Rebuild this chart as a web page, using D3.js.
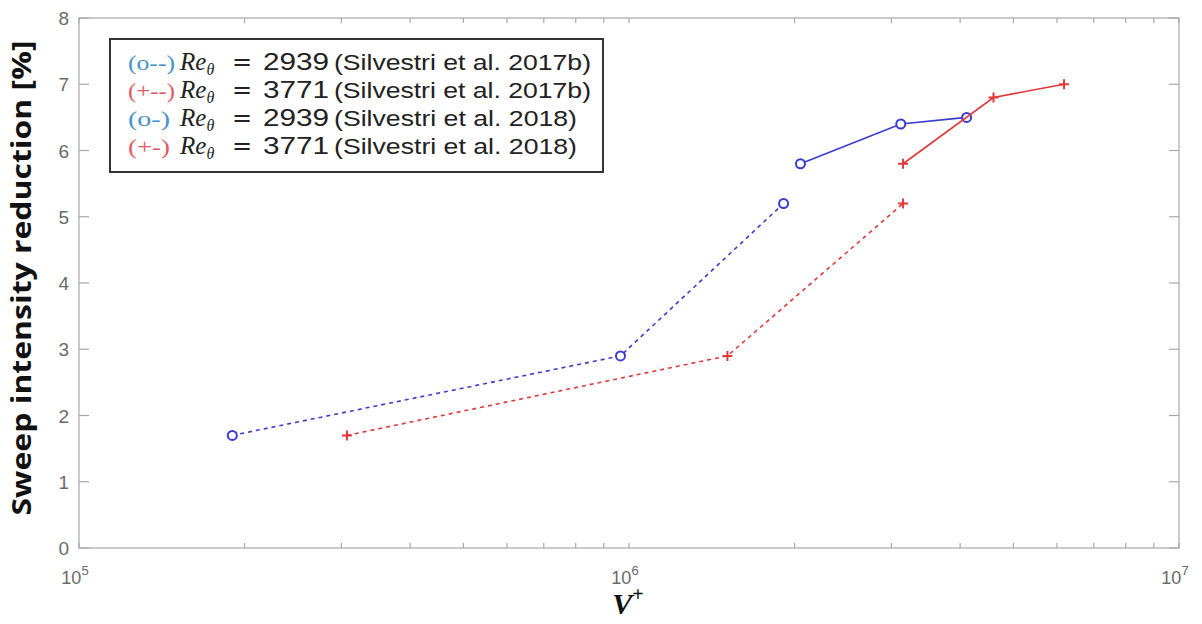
<!DOCTYPE html>
<html><head><meta charset="utf-8">
<script src="https://cdn.jsdelivr.net/npm/d3@7"></script>
<style>body{margin:0;background:#fff;}svg{display:block;}</style>
</head><body>
<svg id="chart" width="1202" height="624"></svg>
<script>
const blue2017x = [1.9e5, 9.65e5, 1.91e6];
const blue2017y = [1.7, 2.9, 5.2];
const red2017x = [3.07e5, 1.51e6, 3.15e6];
const red2017y = [1.7, 2.9, 5.2];
const blue2018x = [2.05e6, 3.12e6, 4.11e6];
const blue2018y = [5.8, 6.4, 6.5];
const red2018x = [3.15e6, 4.6e6, 6.18e6];
const red2018y = [5.8, 6.8, 7.0];
const yTicks = [0,1,2,3,4,5,6,7,8];
const xTickExps = [5,6,7];
const legendPrefixes = ["(o--)", "(+--)", "(o-)", "(+-)"];
const legendRe = ["2939", "3771", "2939", "3771"];
const legendRefs = ["(Silvestri et al. 2017b)", "(Silvestri et al. 2017b)", "(Silvestri et al. 2018)", "(Silvestri et al. 2018)"];

const svg = d3.select("#chart");
const L = 79, R = 1179, T = 18, B = 548;
const x = d3.scaleLog().domain([1e5, 1e7]).range([L, R]);
const y = d3.scaleLinear().domain([0, 8]).range([B, T]);
const axisCol = "#a8a8a8", tickTextCol = "#6a6a6a";
const BLUE = "#3b3bd0", RED = "#e03838";

// frame
svg.append("rect").attr("x", L).attr("y", T).attr("width", R-L).attr("height", B-T)
  .attr("fill", "none").attr("stroke", axisCol).attr("stroke-width", 1.2);

// x ticks (major + minor) on bottom and top
const minor = [];
for (let e = 5; e < 7; e++) for (let m = 1; m < 10; m++) minor.push(m * Math.pow(10, e));
minor.push(1e7);
minor.forEach(v => {
  const len = 5;
  svg.append("line").attr("x1", x(v)).attr("x2", x(v)).attr("y1", B).attr("y2", B - len).attr("stroke", axisCol).attr("stroke-width", 1.2);
  svg.append("line").attr("x1", x(v)).attr("x2", x(v)).attr("y1", T).attr("y2", T + len).attr("stroke", axisCol).attr("stroke-width", 1.2);
});
// y ticks left and right
yTicks.forEach(v => {
  svg.append("line").attr("x1", L).attr("x2", L + 10).attr("y1", y(v)).attr("y2", y(v)).attr("stroke", axisCol).attr("stroke-width", 1.2);
  svg.append("line").attr("x1", R).attr("x2", R - 10).attr("y1", y(v)).attr("y2", y(v)).attr("stroke", axisCol).attr("stroke-width", 1.2);
  svg.append("text").attr("x", L - 10).attr("y", y(v) + 7).attr("text-anchor", "end")
    .attr("font-family", "Liberation Sans, Arial, sans-serif").attr("font-size", 19).attr("fill", tickTextCol).text(v);
});
// x tick labels
xTickExps.forEach(e => {
  const t = svg.append("text").attr("x", x(Math.pow(10, e)) - 4).attr("y", B + 36).attr("text-anchor", "middle")
    .attr("font-family", "Liberation Sans, Arial, sans-serif").attr("font-size", 18).attr("fill", tickTextCol);
  t.append("tspan").text("10");
  t.append("tspan").attr("font-size", 13).attr("dy", -9).text(e);
});

// axis labels
svg.append("text").attr("transform", `translate(31,278) rotate(-90)`).attr("text-anchor", "middle")
  .attr("font-family", "Open Sans, DejaVu Sans, sans-serif").attr("font-weight", "bold").attr("font-size", 26).attr("fill", "#111")
  .attr("textLength", 475).attr("lengthAdjust", "spacingAndGlyphs")
  .text("Sweep intensity reduction [%]");
const xl = svg.append("text").attr("x", 628).attr("y", 614).attr("text-anchor", "middle")
  .attr("font-family", "Liberation Serif, Times New Roman, serif").attr("font-weight", "bold").attr("font-style", "italic").attr("font-size", 30).attr("fill", "#111");
xl.append("tspan").text("V");
xl.append("tspan").attr("font-size", 20).attr("dy", -13).attr("font-style", "normal").text("+");

// series
const series = [
  {xs: blue2017x, ys: blue2017y, color: BLUE, dash: "4,4", mk: "o"},
  {xs: red2017x, ys: red2017y, color: RED, dash: "4,4", mk: "+"},
  {xs: blue2018x, ys: blue2018y, color: BLUE, dash: null, mk: "o"},
  {xs: red2018x, ys: red2018y, color: RED, dash: null, mk: "+"}
];
const line = d3.line().x(d => x(d[0])).y(d => y(d[1]));
series.forEach(s => {
  const pts = s.xs.map((v, i) => [v, s.ys[i]]);
  svg.append("path").datum(pts).attr("d", line).attr("fill", "none").attr("stroke", s.color)
    .attr("stroke-width", 1.6).attr("stroke-dasharray", s.dash);
  pts.forEach(p => {
    if (s.mk === "o") {
      svg.append("circle").attr("cx", x(p[0])).attr("cy", y(p[1])).attr("r", 4.5)
        .attr("fill", "#fff").attr("stroke", s.color).attr("stroke-width", 2);
    } else {
      const cx = x(p[0]), cy = y(p[1]), r = 5;
      svg.append("path").attr("d", `M${cx-r},${cy}H${cx+r}M${cx},${cy-r}V${cy+r}`)
        .attr("stroke", s.color).attr("stroke-width", 2);
    }
  });
});

// legend
const lg = svg.append("g");
lg.append("rect").attr("x", 110).attr("y", 39).attr("width", 493).attr("height", 133)
  .attr("fill", "#fff").attr("stroke", "#333").attr("stroke-width", 2);
const prefCols = ["#4a90cc", "#e05a64", "#4a90cc", "#e05a64"];
const refLens = [257, 257, 243, 243];
const prefLens = [47, 47, 42, 42];
legendPrefixes.forEach((p, i) => {
  const yy = 70 + i * 28;
  lg.append("text").attr("x", 128).attr("y", yy).attr("font-family", "Liberation Serif, serif").attr("font-size", 20)
    .attr("fill", prefCols[i]).attr("textLength", prefLens[i]).attr("lengthAdjust", "spacingAndGlyphs").text(p);
  const t = lg.append("text").attr("x", 180).attr("y", yy).attr("fill", "#222")
    .attr("font-family", "Liberation Serif, serif").attr("font-style", "italic").attr("font-size", 25);
  t.append("tspan").text("Re");
  t.append("tspan").attr("font-size", 16).attr("dy", 5).text("θ");
  lg.append("text").attr("x", 232).attr("y", yy).attr("font-family", "DejaVu Sans, sans-serif").attr("font-size", 24).attr("fill", "#222").text("=");
  lg.append("text").attr("x", 263).attr("y", yy).attr("font-family", "Liberation Sans, Arial, sans-serif").attr("font-size", 24)
    .attr("fill", "#222").attr("textLength", 66).attr("lengthAdjust", "spacingAndGlyphs").text(legendRe[i]);
  lg.append("text").attr("x", 334).attr("y", yy).attr("font-family", "Liberation Sans, Arial, sans-serif").attr("font-size", 22)
    .attr("fill", "#222").attr("textLength", refLens[i]).attr("lengthAdjust", "spacingAndGlyphs").text(legendRefs[i]);
});
</script>
</body></html>
